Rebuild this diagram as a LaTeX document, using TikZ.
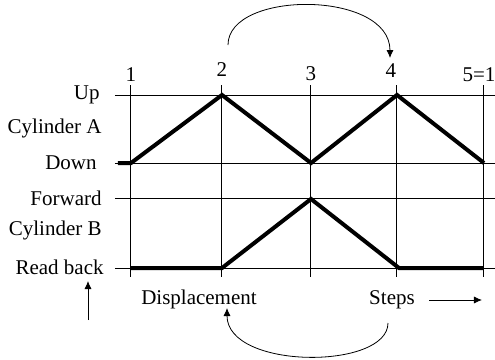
\documentclass[tikz,border=0pt]{standalone}
\usepackage{fontspec}
\setmainfont{Liberation Serif}
\usetikzlibrary{arrows.meta}

\begin{document}
\begin{tikzpicture}[
    x=0.5pt, y=-0.5pt,
    lbl/.style={anchor=east, inner sep=0pt, font=\fontsize{10.5}{12}\selectfont},
    num/.style={inner sep=0pt, font=\fontsize{10.5}{12}\selectfont},
    grid/.style={line width=0.5pt},
    trace/.style={line width=2pt, line join=miter},
    arrow/.style={-{Latex[length=4pt, width=3.5pt]}, line width=0.4pt}
]
    \useasboundingbox (0,0) rectangle (495,360);

    % row labels
    \node[lbl] (up) at (100,95) {Up};
    \node[lbl] (cyla) at (102,128) {Cylinder A};
    \node[lbl] (down) at (97,163) {Down};
    \node[lbl] (fwd) at (102,198) {Forward};
    \node[lbl] (cylb) at (102,230) {Cylinder B};
    \node[lbl] (back) at (104,267) {Read back};

    % step numbers
    \node[num] (s1) at (131,75) {1};
    \node[num] (s2) at (222,70) {2};
    \node[num] (s3) at (311,74) {3};
    \node[num] (s4) at (391,71) {4};
    \node[num] (s5) at (479,75) {5=1};

    % grid
    \foreach \y in {95,163,198,268}
        \draw[grid] (115,\y) -- (495,\y);
    \foreach \x in {131,222,311,397,484}
        \draw[grid] (\x,85) -- (\x,277);

    % cylinder traces
    \draw[trace] (118,163) -- (131,163) -- (222,95) -- (311,163) -- (397,95) -- (484,163);
    \draw[trace] (131,268) -- (222,268) -- (311,199) -- (399,268) -- (484,268);

    % bottom texts
    \node[num] (disp) at (199,299) {Displacement};
    \node[num] (steps) at (392,300) {Steps};
    \coordinate (stepsend) at (482,300);
    \coordinate (uptail) at (88,320);
    \coordinate (uphead) at (88,281);
    \draw[arrow] (steps.east) ++(14,0) -- (stepsend);
    \draw[arrow] (uptail) -- (uphead);

    % jumps
    \coordinate (jumpa) at (228,45);
    \coordinate (jumpb) at (390,58);
    \coordinate (backa) at (388,323);
    \coordinate (backb) at (227,308);
    \draw[arrow] (jumpa) .. controls (228,-10) and (390,-10) .. (jumpb);
    \draw[arrow] (backa) .. controls (388,370) and (227,370) .. (backb);
\end{tikzpicture}
\end{document}
